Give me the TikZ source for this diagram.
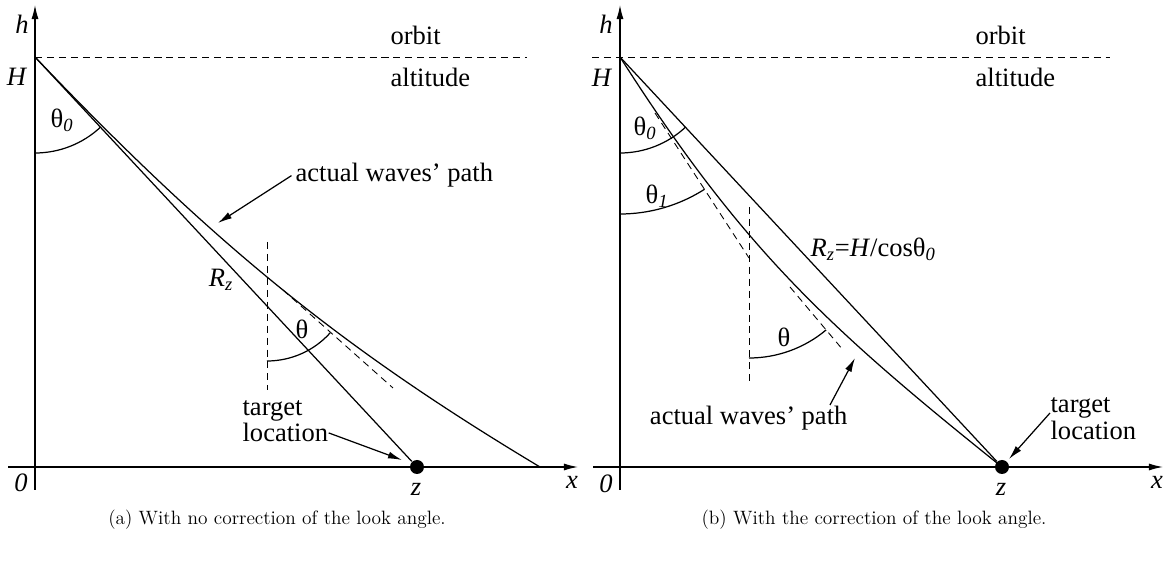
\documentclass[tikz,border=0pt]{standalone}
\usepackage{fontspec}
\usepackage{tikz}
\usetikzlibrary{arrows.meta}
\newfontfamily\tms{Liberation Serif}

\begin{document}
\begin{tikzpicture}[x=0.02cm, y=-0.02cm, line width=0.7pt,
    every node/.style={font=\tms\fontsize{15.1}{18}\selectfont, inner sep=0pt},
    axis/.style={-{Latex[length=8pt,width=4pt]}},
    pointer/.style={-{Latex[length=8pt,width=4pt]}},
    guide/.style={dash pattern=on 4pt off 2.8pt, line width=0.5pt},
    dot/.style={circle, fill, minimum size=0.28cm},
    capt/.style={font=\rmfamily\fontsize{11}{13}\selectfont, anchor=base}]

    \useasboundingbox (0,0) rectangle (1171,563);

    % (a) no correction
    \begin{scope}
        % Define the points
        \coordinate (Ha) at (35,57);
        \coordinate (vbot-a) at (35,490);
        \coordinate (vtop-a) at (35,5);
        \coordinate (xbeg-a) at (8,467);
        \coordinate (xend-a) at (578,467);
        \coordinate (orb-a) at (527,57);
        \coordinate (Ga) at (540,467);
        \coordinate (hit-a) at (218,223);
        \coordinate (tip-a) at (402,460);
        \node[dot] (Za) at (417,467) {};

        \draw[axis] (vbot-a) -- (vtop-a);
        \draw[axis] (xbeg-a) -- (xend-a);
        \draw[guide] (Ha) -- (orb-a);
        \draw (Ha) -- (Za);
        \draw (Ha) .. controls (217,248) and (345,350) .. (Ga);

        \draw[guide] (267,242) -- (267,390);
        \draw[guide] (283,290) -- (393,388);
        \draw (267,361) arc[start angle=270, end angle=318, radius=1.7cm];
        \draw (35,153) arc[start angle=270, end angle=313, radius=1.92cm];

        \node at (22,24) {\textit{h}};
        \node at (17,77) {\textit{H}};
        \node at (21,483) {\textit{0}};
        \node at (416,489) {\textit{z}};
        \node at (572,482) {\textit{x}};
        \node[anchor=base west] at (390,45) {orbit};
        \node[anchor=base west] at (390,87) {altitude};
        \node at (62,120) {θ\textsubscript{\textit{0}}};
        \node at (221,280) {\textit{R}\textsubscript{\textit{z}}};
        \node at (302,329) {θ};

        \node[anchor=base west] (wave-a) at (295,182) {actual waves’ path};
        \draw[pointer] ([xshift=-2pt]wave-a.west) -- (hit-a);
        \node[anchor=base west] (tgt-a) at (242,416) {target};
        \node[anchor=base west] (loc-a) at (242,442) {location};
        \draw[pointer] (loc-a.east) -- (tip-a);

        \node[capt] at (277,525) {(a) With no correction of the look angle.};
    \end{scope}

    % (b) with correction
    \begin{scope}[shift={(585,0)}]
        % Define the points
        \coordinate (Hb) at (35,57);
        \coordinate (vbot-b) at (35,490);
        \coordinate (vtop-b) at (35,5);
        \coordinate (xbeg-b) at (8,467);
        \coordinate (xend-b) at (578,467);
        \coordinate (orb-b) at (525,57);
        \coordinate (orbl-b) at (7,57);
        \coordinate (tail-b) at (245,405);
        \coordinate (hit-b) at (270,358);
        \coordinate (tip-b) at (424,459);
        \node[dot] (Zb) at (417,467) {};

        \draw[axis] (vbot-b) -- (vtop-b);
        \draw[axis] (xbeg-b) -- (xend-b);
        \draw[guide] (orbl-b) -- (orb-b);
        \draw (Hb) -- (Zb);
        \draw (Hb) .. controls (156.5,247) and (239.5,325) .. (Zb.center);

        \draw[guide] (164,207) -- (164,385);
        \draw[guide] (70,113) -- (164,258);
        \draw[guide] (205,287) -- (258,350);
        \draw (35,214) arc[start angle=270, end angle=302.6, radius=3.14cm];
        \draw (35,153) arc[start angle=270, end angle=313, radius=1.92cm];
        \draw (164,358) arc[start angle=270, end angle=310, radius=2.4cm];

        \node at (21,24) {\textit{h}};
        \node at (17,78) {\textit{H}};
        \node at (21,484) {\textit{0}};
        \node at (416,489) {\textit{z}};
        \node at (572,482) {\textit{x}};
        \node[anchor=base west] at (390,45) {orbit};
        \node[anchor=base west] at (390,87) {altitude};
        \node at (60,128) {θ\textsubscript{\textit{0}}};
        \node at (72,196) {θ\textsubscript{\textit{1}}};
        \node at (199,337) {θ};
        \node[anchor=base west] at (225,257) {\textit{R}\textsubscript{\textit{z}}=\textit{H}/cosθ\textsubscript{\textit{0}}};

        \node[anchor=base east] (wave-b) at (263,425) {actual waves’ path};
        \draw[pointer] (tail-b) -- (hit-b);
        \node[anchor=base west] (tgt-b) at (465,413) {target};
        \node[anchor=base west] (loc-b) at (465,440) {location};
        \draw[pointer] (tgt-b.base west) -- (tip-b);

        \node[capt] at (289,525) {(b) With the correction of the look angle.};
    \end{scope}

\end{tikzpicture}
\end{document}
